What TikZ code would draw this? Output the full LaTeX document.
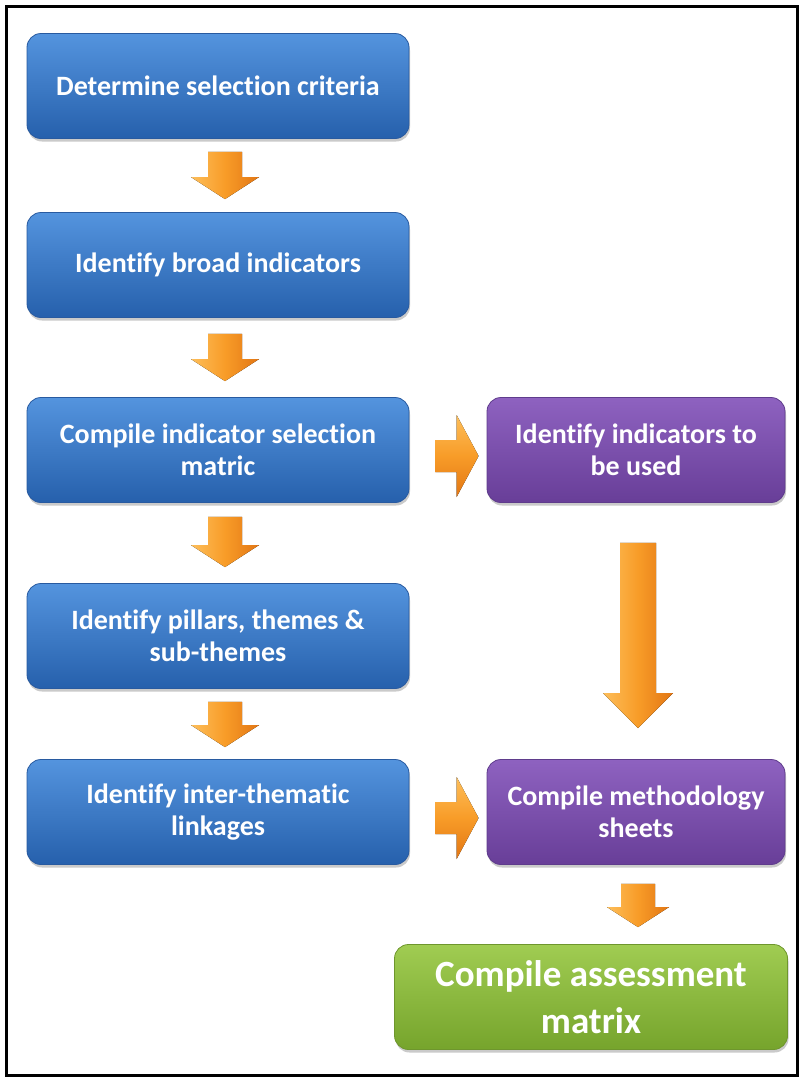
\documentclass[tikz,border=0pt]{standalone}
\usepackage{fontspec}
\setmainfont{Carlito}[Ligatures=NoCommon]
\usetikzlibrary{calc,shadows}
\definecolor{bluetop}{RGB}{84,148,222}
\definecolor{bluebot}{RGB}{38,96,172}
\definecolor{blueedge}{RGB}{40,90,160}
\definecolor{purtop}{RGB}{142,98,192}
\definecolor{purbot}{RGB}{104,62,152}
\definecolor{puredge}{RGB}{95,60,140}
\definecolor{grntop}{RGB}{160,204,82}
\definecolor{grnbot}{RGB}{118,164,44}
\definecolor{grnedge}{RGB}{110,150,45}
\definecolor{orlight}{RGB}{253,190,90}
\definecolor{ormid}{RGB}{248,156,40}
\definecolor{ordark}{RGB}{226,118,20}
\newcommand\blockdown[5]{%
  \fill[left color=orlight, right color=ordark, middle color=ormid]
    ($(#1)+(-#3,0)$) -- ($(#2)+(-#3,-#5)$) -- ($(#2)+(-#4,-#5)$) -- (#2)
    -- ($(#2)+(#4,-#5)$) -- ($(#2)+(#3,-#5)$) -- ($(#1)+(#3,0)$) -- cycle;}
\newcommand\blockright[5]{%
  \fill[top color=orlight, bottom color=ordark, middle color=ormid]
    ($(#1)+(0,-#3)$) -- ($(#2)+(-#5,-#3)$) -- ($(#2)+(-#5,-#4)$) -- (#2)
    -- ($(#2)+(-#5,#4)$) -- ($(#2)+(-#5,#3)$) -- ($(#1)+(0,#3)$) -- cycle;}
\tikzset{
  box/.style={rounded corners=14pt, align=center, text=white,
    font=\fontsize{28}{32}\selectfont\bfseries, line width=0.8pt,
    drop shadow={shadow xshift=1pt, shadow yshift=-3pt, opacity=0.35, fill=black!60}},
  bluebox/.style={box, minimum width=382pt, minimum height=105pt,
    top color=bluetop, bottom color=bluebot, draw=blueedge},
  purbox/.style={box, minimum width=298pt, minimum height=105pt,
    top color=purtop, bottom color=purbot, draw=puredge},
  grnbox/.style={box, minimum width=393pt, minimum height=105pt,
    top color=grntop, bottom color=grnbot, draw=grnedge,
    font=\fontsize{37}{47}\selectfont\bfseries},
}
\begin{document}
\begin{tikzpicture}[x=1pt,y=-1pt]
\useasboundingbox (0,0) rectangle (803,1079);
\draw[line width=3pt] (6,6) rectangle (797,1075);

\node[bluebox] (b1) at (218,86) {Determine selection criteria};
\node[bluebox] (b2) at (218,265) {Identify broad indicators};
\node[bluebox] (b3) at (218,450) {Compile indicator selection\\matric};
\node[bluebox] (b4) at (218,636) {Identify pillars, themes \&\\sub-themes};
\node[bluebox] (b5) at (218,812) {Identify inter-thematic\\linkages};
\node[purbox] (p1) at (636,450) {Identify indicators to\\be used};
\node[purbox] (p2) at (636,812) {Compile methodology\\sheets};
\node[grnbox] (g1) at (591,997) {Compile assessment\\matrix};

\coordinate (a1s) at ($(b1.south)+(7,13)$);
\coordinate (a1e) at ($(b2.north)+(7,-13)$);
\coordinate (a2s) at ($(b2.south)+(7,16)$);
\coordinate (a2e) at ($(b3.north)+(7,-16)$);
\coordinate (a3s) at ($(b3.south)+(7,14)$);
\coordinate (a3e) at ($(b4.north)+(7,-16)$);
\coordinate (a4s) at ($(b4.south)+(7,13)$);
\coordinate (a4e) at ($(b5.north)+(7,-12)$);
\blockdown{a1s}{a1e}{17}{34}{22}
\blockdown{a2s}{a2e}{17}{34}{22}
\blockdown{a3s}{a3e}{17}{34}{22}
\blockdown{a4s}{a4e}{17}{34}{22}

\coordinate (r1s) at ($(b3.east)+(26,6)$);
\coordinate (r1e) at ($(p1.west)+(-8,6)$);
\coordinate (r2s) at ($(b5.east)+(26,6)$);
\coordinate (r2e) at ($(p2.west)+(-8,6)$);
\blockright{r1s}{r1e}{16}{41}{22}
\blockright{r2s}{r2e}{16}{41}{22}

\coordinate (v1s) at ($(p1.south)+(2,40)$);
\coordinate (v1e) at ($(p2.north)+(2,-31)$);
\blockdown{v1s}{v1e}{18}{35}{35}

\coordinate (v2s) at ($(p2.south)+(2,19)$);
\coordinate (v2e) at ($(g1.north)+(47,-17)$);
\blockdown{v2s}{v2e}{17}{31}{20}
\end{tikzpicture}
\end{document}
